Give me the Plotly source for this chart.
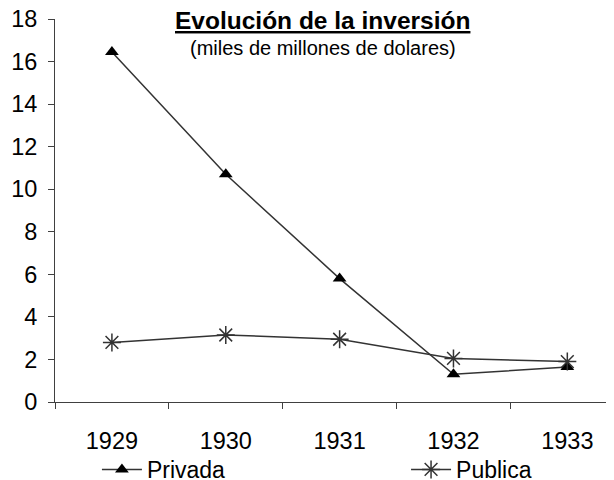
import plotly.graph_objects as go

years = ["1929", "1930", "1931", "1932", "1933"]
privada = [16.45, 10.7, 5.8, 1.3, 1.65]
publica = [2.8, 3.15, 2.95, 2.05, 1.9]
y_ticks = [0, 2, 4, 6, 8, 10, 12, 14, 16, 18]

title_text = "<b><u>Evolución de la inversión</u></b>"
subtitle_text = "(miles de millones de dolares)"

FONT = "Liberation Sans, Arial, sans-serif"

fig = go.Figure()
fig.add_trace(
    go.Scatter(
        x=years,
        y=privada,
        mode="lines+markers",
        name="Privada",
        legend="legend",
        line=dict(color="#333333", width=1.5),
        marker=dict(symbol="triangle-up", size=12, color="#000000"),
    )
)
fig.add_trace(
    go.Scatter(
        x=years,
        y=publica,
        mode="lines+markers",
        name="Publica",
        legend="legend2",
        line=dict(color="#333333", width=1.5),
        marker=dict(symbol="asterisk-open", size=15, color="#333333",
                    line=dict(color="#333333", width=1.5)),
    )
)

legend_style = dict(orientation="h", xanchor="left", yanchor="top", y=-0.12,
                    font=dict(size=23), itemwidth=40, bgcolor="rgba(0,0,0,0)")

# the page body adds an 8px offset, so the figure is 8px smaller than the window
fig.update_layout(
    width=606,
    height=472,
    paper_bgcolor="white",
    plot_bgcolor="white",
    font=dict(family=FONT, color="black", size=23.5),
    margin=dict(l=47, r=0, t=11, b=78, autoexpand=False),
    showlegend=True,
    legend=dict(x=0.075, **legend_style),
    legend2=dict(x=0.628, **legend_style),
    annotations=[
        dict(text=title_text, xref="paper", yref="paper", x=0.479, y=0.995,
             xanchor="center", yanchor="middle", showarrow=False,
             font=dict(size=24.5, family=FONT)),
        dict(text=subtitle_text, xref="paper", yref="paper", x=0.479, y=0.924,
             xanchor="center", yanchor="middle", showarrow=False,
             font=dict(size=20, family=FONT)),
    ],
)

fig.update_xaxes(
    type="category",
    range=[-0.5, 4.41],
    automargin=False,
    showgrid=False,
    zeroline=False,
    showline=True,
    linecolor="#404040",
    linewidth=1,
    ticks="outside",
    tickson="boundaries",
    ticklen=6,
    tickcolor="#404040",
    ticklabelstandoff=18,
    ticklabeloverflow="allow",
)
fig.update_yaxes(
    range=[0, 18],
    tickvals=y_ticks,
    automargin=False,
    showgrid=False,
    zeroline=False,
    showline=True,
    linecolor="#404040",
    linewidth=1,
    ticks="outside",
    ticklen=6,
    tickcolor="#404040",
    ticklabelstandoff=6,
    ticklabeloverflow="allow",
)

fig.write_html("out.html")
